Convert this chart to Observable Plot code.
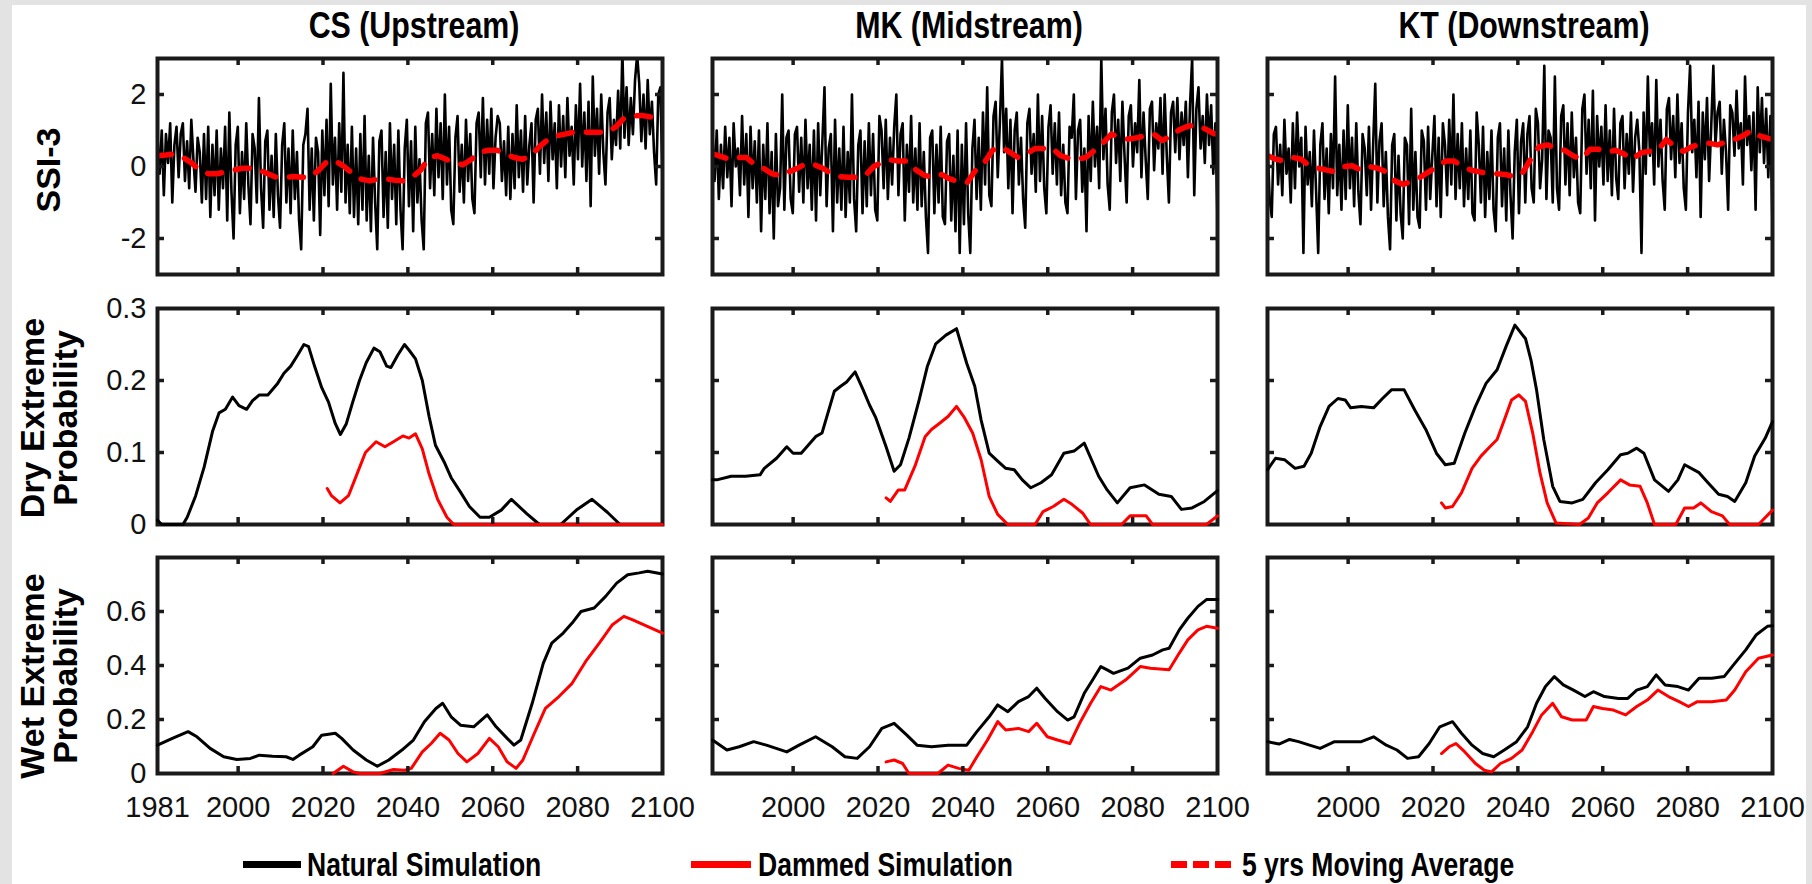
<!DOCTYPE html>
<html>
<head>
<meta charset="utf-8">
<script src="https://cdn.jsdelivr.net/npm/d3@7"></script>
<script src="https://cdn.jsdelivr.net/npm/@observablehq/plot@0.6"></script>
<style>
html,body{margin:0;padding:0;background:#fff;}
#root{position:relative;width:1812px;height:884px;overflow:hidden;background:#fff;font-family:"Liberation Sans",Arial,sans-serif;color:#000;}
.title{position:absolute;top:5px;height:42px;line-height:42px;font-weight:bold;font-size:37px;white-space:nowrap;transform:translateX(-50%) scaleX(0.82);}
.ylab{position:absolute;font-weight:bold;font-size:34px;line-height:33px;white-space:nowrap;text-align:center;transform:translate(-50%,-50%) rotate(-90deg);}
.legtext{position:absolute;top:844px;height:40px;line-height:40px;font-weight:bold;font-size:34px;white-space:nowrap;transform:scaleX(0.78);transform-origin:0 50%;}
.legbar{position:absolute;height:7px;top:861px;}
.strip{position:absolute;background:#e3e3e3;}
</style>
</head>
<body>
<div id="root"></div>
<script>
// ---------------- data ----------------
const stations = ["CS (Upstream)", "MK (Midstream)", "KT (Downstream)"];
const rowLabels = [["SSI-3"], ["Dry Extreme", "Probability"], ["Wet Extreme", "Probability"]];
const legendLabels = ["Natural Simulation", "Dammed Simulation", "5 yrs Moving Average"];

const xTickMarks = [2000, 2020, 2040, 2060, 2080];
const xLabelsFirst = [1981, 2000, 2020, 2040, 2060, 2080, 2100];
const xLabelsOther = [2000, 2020, 2040, 2060, 2080, 2100];
const ssiTicks = [-2, 0, 2];
const dryTicks = [0, 0.1, 0.2, 0.3];
const wetTicks = [0, 0.2, 0.4, 0.6];

// SSI-3, two readings per year, 1981-2100
const ssiCS = [
 0.8,-0.2, 1.0,-0.8, 0.9,0.1, 1.2,-1.0, 0.6,1.1, -0.3,0.9, 1.2,-0.4, 0.7,-0.6, 1.3,0.2, -0.7,0.8,
 0.4,-1.0, 0.9,-0.9, 1.1,-1.4, 0.6,-0.8, 1.0,-1.2, 0.5,-0.6, 1.1,-1.5, 1.5,-0.7, -2.0,0.6, 1.1,-1.3,
 0.4,-0.9, 1.2,-0.5, -1.6,0.9, 0.5,-1.0, 1.9,-0.6, -1.7,0.7, 1.0,-1.2, 0.3,-1.4, 0.9,-0.8, -1.7,0.6,
 1.2,-1.0, 0.5,-1.3, 1.0,-0.9, 0.4,-1.5, -2.3,0.6, 0.9,1.6, -1.2,0.5, -1.5,0.8, 0.4,-1.9, 1.0,-0.8,
 1.3,-1.1, 2.3,-0.5, 0.8,-1.2, 1.2,-0.7, 2.6,-1.0, 0.6,-1.3, 1.1,-1.4, 0.5,-1.6, 0.9,-1.2, 1.4,-1.5,
 0.3,-1.8, 0.8,-1.0, -2.3,0.7, 1.0,-1.4, 0.4,-1.7, 1.2,-0.9, 0.6,-1.6, 1.0,-1.2, -2.3,0.5, 1.3,-1.1,
 0.7,-1.8, 1.1,-1.0, 0.2,-1.5, -2.3,1.2, 1.5,-0.6, 0.9,-0.8, 1.6,-0.3, 1.2,-0.9, 2.0,-0.5, 1.1,-1.2,
 -1.6,0.8, 1.4,-0.7, 0.6,-1.0, 1.3,-0.4, 0.9,-0.9, -1.3,1.2, 1.5,-0.3, 1.9,-0.5, 1.3,-0.2, 1.6,-0.6,
 0.8,1.4, 1.2,-0.4, 0.7,-0.8, 1.1,-0.9, 0.9,-0.6, 1.7,-0.3, 1.0,-0.7, 1.4,-0.5, 0.6,1.2, -1.0,1.3,
 1.6,-0.2, 2.0,0.1, 1.5,-0.4, 1.8,0.2, 1.2,-0.6, 1.7,0.0, 1.4,-0.3, 1.9,0.3, 1.1,-0.5, 1.7,0.2,
 2.3,0.0, 1.5,-0.4, 1.8,-1.1, 2.5,0.3, 1.6,-0.2, 2.0,0.4, -0.5,1.5, 1.9,0.2, 1.3,0.6, 2.1,0.5,
 3.2,0.8, 2.2,0.6, 1.9,0.9, 2.4,3.1, 2.3,0.7, 2.0,0.5, 2.4,0.9, 1.8,0.4, -0.5,2.0, 2.2,-0.4
];
const ssiMK = [
 0.9,-0.4, 1.0,-0.9, 0.6,-0.6, 1.1,-0.3, 0.8,-1.1, 1.2,0.0, 0.5,-0.8, 1.4,-0.5, 0.9,-1.4, 1.1,-0.6,
 0.7,-1.0, 1.0,-1.8, 0.6,-0.9, 1.2,-1.3, 0.4,-2.0, 0.9,-1.1, -0.6,2.0, -1.2,0.8, 1.0,-0.9, -1.3,0.9,
 1.1,-0.7, 0.8,-1.0, 1.3,-0.6, 0.6,-1.2, 1.0,-1.5, 1.2,-0.8, 0.7,2.2, -1.1,0.5, 0.9,-1.8, 1.3,-1.0,
 0.5,-1.2, 1.1,-1.4, 0.4,-1.0, 2.0,-0.9, -1.8,0.6, 1.0,-1.3, 0.7,-1.1, 1.2,-0.8, 0.9,-1.2, -1.5,1.4,
 1.0,-0.6, 1.3,-0.9, 0.8,-0.5, 1.1,2.0, -0.8,0.9, 1.2,-1.5, 0.6,-0.7, 1.4,-1.0, 0.5,-1.2, 1.2,-1.1,
 0.4,-1.4, -2.4,0.8, 1.0,-1.3, 0.6,-1.0, 1.1,-1.4, -1.6,0.7, 0.9,-1.5, 0.3,-1.8, 1.0,-2.4, 0.6,-1.6,
 1.2,-1.3, -2.4,0.5, 1.3,-0.9, 0.8,-1.2, 1.5,-0.5, 2.2,-0.8, -1.1,1.4, 1.8,-0.3, 1.2,3.0, 0.4,1.6,
 -0.6,1.3, -1.3,1.0, 1.5,-0.5, 0.8,-0.9, -1.7,1.2, 1.6,-0.2, 0.9,-0.7, 2.0,-0.4, 1.4,-0.6, -1.3,1.1,
 1.7,-0.2, 1.2,-0.5, 1.5,-0.8, 0.6,-1.0, -1.3,1.1, 0.8,2.0, -0.9,1.0, 1.3,-0.7, 0.5,-1.8, 1.4,-0.4,
 1.8,0.0, 1.1,-0.6, 3.0,0.2, 1.6,-0.5, -1.2,1.5, 2.0,0.1, 1.3,-0.4, 1.8,0.3, -1.0,1.4, 1.7,0.0,
 1.2,0.4, 2.4,-0.3, 1.5,0.2, -0.9,1.6, 1.8,-0.1, 1.2,0.5, 1.9,-0.2, 2.0,0.3, -1.0,1.5, 1.8,0.4,
 1.9,0.2, 1.5,0.6, 1.8,-0.3, 1.7,3.0, -0.8,1.6, 2.2,0.5, 1.4,0.1, 2.0,0.6, 1.7,-0.2, 1.2,-1.5
];
const ssiKT = [
 0.7,-0.9, -1.4,0.9, 1.1,-0.5, 0.6,-0.8, 1.3,-0.2, 0.5,-1.0, 1.2,-0.6, 1.5,0.0, 0.8,-2.4, 1.1,-0.5,
 0.4,-1.1, 1.0,-0.7, -2.4,0.6, 1.2,-0.9, 0.5,-1.3, 0.9,-0.6, 2.5,-0.8, 0.6,-1.2, 1.0,-0.9, 1.7,-0.6,
 0.8,-1.1, 1.2,-0.7, -1.6,0.9, 0.5,-0.8, 1.1,-1.2, 0.6,2.3, -1.0,0.7, 1.2,-1.1, 0.4,-1.4, -2.3,0.6,
 0.9,-1.5, 0.3,-1.3, -2.0,0.8, 0.6,-1.6, 1.6,-1.2, 0.4,-1.4, -1.7,1.0, 0.7,-1.2, 1.1,-0.9, 0.3,1.4,
 -1.1,0.8, -1.4,1.2, 0.6,-0.8, 1.3,-0.5, 2.0,-0.9, 0.9,-0.6, 1.2,-1.1, 0.5,-0.9, 1.0,-1.3, -1.5,1.5,
 0.6,-1.0, 1.1,-1.4, 0.4,-0.9, 1.0,-1.2, -1.8,0.8, 1.2,-1.1, 0.5,-1.5, 1.0,-0.8, -2.0,0.4, 1.3,-1.3,
 0.7,1.2, -1.0,0.9, 1.4,-0.6, -1.0,1.6, 1.2,-0.6, 0.2,2.8, -0.9,1.0, 0.8,-1.0, 2.5,-0.6, -1.2,1.4,
 1.7,-0.5, 1.2,-0.8, 1.5,-0.3, 0.8,-1.0, -1.3,1.6, 2.0,-0.2, 1.3,-0.6, 2.1,-1.5, 1.4,0.0, 1.1,-0.5,
 1.7,-0.4, 1.0,-0.8, 1.6,-0.3, -0.9,1.2, 1.4,-0.6, 0.9,-0.2, 1.5,-0.7, 0.8,1.3, 0.4,-2.4, 1.5,-0.2,
 2.5,0.3, 1.2,-0.5, 2.4,0.0, 1.3,-0.4, -1.2,1.6, 1.9,0.2, 1.4,-0.3, 2.0,0.1, 1.2,-0.6, -1.2,1.5,
 2.8,0.4, 1.3,-0.3, 1.8,-1.4, 1.5,0.2, 1.9,-0.4, 1.1,2.8, 0.6,1.5, 1.8,-0.2, 1.3,0.4, -1.2,1.7,
 1.5,0.3, 2.1,0.5, 1.2,-0.5, 2.5,0.6, 1.4,-0.1, 1.5,-1.2, 2.2,0.4, 1.9,0.1, 1.6,-0.3, 1.4,-1.7
];

// 5-year moving average [year, value]
const maCS = [[1981,0.3],[1983,0.32],[1985,0.35],[1987,0.25],[1989,0.1],[1991,-0.1],[1993,-0.2],[1995,-0.2],[1997,-0.15],[1999,-0.1],[2001,-0.05],[2003,-0.05],[2005,-0.1],[2007,-0.2],[2009,-0.3],[2011,-0.3],[2013,-0.28],[2015,-0.3],[2017,-0.3],[2019,-0.1],[2021,0.15],[2023,0.15],[2025,0.0],[2027,-0.2],[2029,-0.35],[2031,-0.4],[2033,-0.35],[2035,-0.35],[2037,-0.38],[2039,-0.4],[2041,-0.3],[2043,-0.1],[2045,0.25],[2047,0.3],[2049,0.2],[2051,0.1],[2053,0.05],[2055,0.2],[2057,0.4],[2059,0.45],[2061,0.45],[2063,0.35],[2065,0.25],[2067,0.2],[2069,0.3],[2071,0.55],[2073,0.75],[2075,0.85],[2077,0.9],[2079,0.95],[2081,0.95],[2083,0.95],[2085,0.95],[2087,0.95],[2089,1.1],[2091,1.35],[2093,1.4],[2095,1.42],[2097,1.38],[2099,1.35],[2100,1.35]];
const maMK = [[1981,0.35],[1983,0.28],[1985,0.2],[1987,0.25],[1989,0.25],[1991,0.05],[1993,-0.05],[1995,-0.2],[1997,-0.25],[1999,-0.15],[2001,-0.05],[2003,0.08],[2005,0.05],[2007,-0.05],[2009,-0.2],[2011,-0.28],[2013,-0.3],[2015,-0.3],[2017,-0.25],[2019,0.0],[2021,0.12],[2023,0.18],[2025,0.15],[2027,0.15],[2029,-0.1],[2031,-0.25],[2033,-0.3],[2035,-0.22],[2037,-0.35],[2039,-0.42],[2041,-0.45],[2043,-0.1],[2045,0.1],[2047,0.45],[2049,0.55],[2051,0.4],[2053,0.25],[2055,0.35],[2057,0.5],[2059,0.5],[2061,0.52],[2063,0.3],[2065,0.22],[2067,0.2],[2069,0.25],[2071,0.45],[2073,0.65],[2075,0.9],[2077,0.8],[2079,0.76],[2081,0.8],[2083,0.85],[2085,0.9],[2087,0.72],[2089,0.85],[2091,1.02],[2093,1.12],[2095,1.15],[2097,1.05],[2099,0.92],[2100,0.9]];
const maKT = [[1981,0.3],[1983,0.2],[1985,0.15],[1987,0.25],[1989,0.2],[1991,0.0],[1993,-0.05],[1995,-0.1],[1997,-0.15],[1999,0.0],[2001,0.02],[2003,-0.1],[2005,0.0],[2007,-0.05],[2009,-0.15],[2011,-0.4],[2013,-0.5],[2015,-0.4],[2017,-0.3],[2019,-0.15],[2021,0.0],[2023,0.15],[2025,0.15],[2027,0.0],[2029,-0.1],[2031,-0.15],[2033,-0.2],[2035,-0.2],[2037,-0.22],[2039,-0.28],[2041,-0.2],[2043,0.2],[2045,0.55],[2047,0.6],[2049,0.5],[2051,0.45],[2053,0.3],[2055,0.2],[2057,0.48],[2059,0.48],[2061,0.4],[2063,0.45],[2065,0.35],[2067,0.2],[2069,0.38],[2071,0.42],[2073,0.45],[2075,0.75],[2077,0.55],[2079,0.42],[2081,0.55],[2083,0.62],[2085,0.65],[2087,0.6],[2089,0.68],[2091,0.75],[2093,0.85],[2095,1.0],[2097,0.85],[2099,0.78],[2100,0.75]];

// Dry extreme probability [year, value]
const dryNatCS = [[1981,0.006],[1982,0],[1987,0],[1988,0.01],[1990,0.04],[1992,0.08],[1994,0.13],[1995.5,0.155],[1997,0.16],[1998.7,0.177],[2000.2,0.165],[2002,0.16],[2003.4,0.172],[2005,0.18],[2007,0.18],[2009.2,0.195],[2010.8,0.21],[2012.4,0.22],[2014,0.235],[2015.5,0.25],[2016.6,0.247],[2018,0.22],[2019.7,0.19],[2021.3,0.17],[2022.9,0.14],[2024.1,0.125],[2025.5,0.14],[2027,0.17],[2028.6,0.2],[2030.2,0.225],[2032,0.245],[2033.4,0.24],[2035,0.22],[2036,0.218],[2037.6,0.235],[2039.2,0.25],[2040.3,0.242],[2041.8,0.23],[2043.4,0.2],[2045,0.15],[2046.5,0.11],[2048.7,0.085],[2050.2,0.065],[2052.4,0.045],[2054.5,0.025],[2057,0.01],[2059.2,0.01],[2062,0.02],[2064.4,0.035],[2068,0.015],[2071,0],[2076,0],[2079.7,0.02],[2083.4,0.035],[2087,0.017],[2090,0],[2100,0]];
const dryDamCS = [[2021,0.05],[2022,0.04],[2024,0.03],[2026,0.04],[2028,0.07],[2030,0.1],[2032.5,0.115],[2034.6,0.108],[2036.6,0.115],[2038.8,0.123],[2040.3,0.12],[2041.8,0.126],[2043.4,0.105],[2045,0.07],[2047,0.035],[2049.2,0.01],[2050.8,0],[2100,0]];
const dryNatMK = [[1981,0.062],[1982,0.062],[1985.4,0.067],[1988.8,0.067],[1992.2,0.069],[1993.2,0.078],[1996.1,0.092],[1998.5,0.108],[2000,0.099],[2001.9,0.099],[2005.3,0.122],[2006.8,0.127],[2009.7,0.185],[2011.2,0.192],[2012.6,0.198],[2014.6,0.212],[2016.5,0.187],[2018,0.166],[2019.5,0.148],[2021.9,0.108],[2023.8,0.074],[2025.3,0.083],[2027.3,0.12],[2029.7,0.173],[2031.6,0.219],[2033.6,0.251],[2036,0.263],[2038.5,0.272],[2040.9,0.224],[2042.8,0.192],[2044.3,0.145],[2046.2,0.099],[2048.2,0.088],[2050.1,0.078],[2052.1,0.076],[2054,0.062],[2056,0.051],[2058.4,0.058],[2060.9,0.069],[2063.8,0.099],[2066.2,0.102],[2068.6,0.113],[2072,0.067],[2074,0.048],[2076.4,0.03],[2079.4,0.051],[2082.8,0.055],[2086.2,0.042],[2089.1,0.039],[2091.5,0.021],[2094,0.023],[2096.9,0.032],[2100,0.047]];
const dryDamMK = [[2021.9,0.037],[2022.9,0.032],[2024.8,0.048],[2026.3,0.048],[2028.7,0.081],[2031.1,0.122],[2032.6,0.132],[2034.6,0.141],[2036.5,0.15],[2038.5,0.164],[2040.4,0.148],[2042.3,0.127],[2044.3,0.09],[2046.2,0.039],[2048.2,0.014],[2050.6,0],[2057,0],[2058.9,0.018],[2061.3,0.025],[2063.8,0.035],[2065.7,0.028],[2068.2,0.016],[2070.1,0],[2077.4,0],[2079.4,0.012],[2083.2,0.012],[2084.7,0],[2097.4,0],[2100,0.012]];
const dryNatKT = [[1981,0.076],[1982.9,0.092],[1985,0.09],[1987.5,0.078],[1989.6,0.081],[1991.3,0.099],[1993.4,0.136],[1995.5,0.164],[1997.6,0.175],[1999.3,0.173],[2000.6,0.162],[2003.1,0.164],[2006,0.162],[2008.1,0.175],[2010.2,0.187],[2013.2,0.187],[2015.7,0.159],[2018.3,0.132],[2020.8,0.099],[2022.9,0.083],[2025,0.085],[2027.5,0.127],[2030,0.164],[2032.5,0.196],[2035.1,0.215],[2037.2,0.247],[2039.3,0.277],[2041.8,0.258],[2043.1,0.228],[2044.4,0.187],[2046.1,0.118],[2048.2,0.053],[2049.9,0.032],[2052.8,0.03],[2055.3,0.035],[2058.3,0.058],[2061.2,0.076],[2064.2,0.097],[2065.9,0.099],[2068,0.106],[2069.7,0.099],[2072.2,0.062],[2075.5,0.046],[2077.7,0.062],[2079.3,0.083],[2082.7,0.072],[2084.8,0.058],[2087.3,0.042],[2089.4,0.039],[2091.1,0.032],[2093.7,0.058],[2095.8,0.095],[2098.3,0.12],[2100,0.143]];
const dryDamKT = [[2022,0.03],[2022.9,0.023],[2024.6,0.025],[2026.7,0.044],[2029.2,0.078],[2031.3,0.095],[2033.4,0.108],[2035.1,0.118],[2036.8,0.145],[2038.5,0.173],[2040.2,0.18],[2041.8,0.171],[2043.5,0.127],[2045.2,0.072],[2046.9,0.03],[2049,0.002],[2054.5,0],[2056.6,0.009],[2058.7,0.03],[2061.2,0.044],[2064.2,0.062],[2066.3,0.055],[2068.8,0.053],[2070.5,0.03],[2072.2,0],[2077.2,0],[2079.3,0.023],[2081.4,0.023],[2083.1,0.03],[2085.6,0.018],[2088.2,0.012],[2089.9,0],[2096.7,0],[2100,0.02]];

// Wet extreme probability [year, value]
const wetNatCS = [[1981,0.105],[1984.5,0.13],[1988.2,0.155],[1990.3,0.136],[1993.4,0.093],[1996.6,0.062],[1999.7,0.052],[2002.9,0.056],[2005,0.068],[2008.1,0.064],[2011.3,0.062],[2012.9,0.052],[2014.4,0.068],[2017.6,0.099],[2019.7,0.142],[2022.9,0.149],[2024.4,0.13],[2027.1,0.087],[2030.2,0.05],[2032.8,0.027],[2035.5,0.05],[2038.6,0.087],[2041.3,0.124],[2043.9,0.192],[2046.6,0.241],[2048.2,0.26],[2050.2,0.21],[2052.4,0.179],[2055.5,0.173],[2058.7,0.217],[2060.8,0.173],[2063.4,0.13],[2065,0.105],[2066.6,0.124],[2069.3,0.26],[2071.9,0.408],[2073.9,0.483],[2076.6,0.52],[2078.7,0.557],[2080.8,0.6],[2083.9,0.613],[2086.6,0.656],[2089.2,0.705],[2091.8,0.736],[2094.5,0.743],[2096.5,0.749],[2100,0.739]];
const wetDamCS = [[2022.4,0],[2024.8,0.027],[2027.1,0.006],[2028.7,0],[2033.4,0],[2036.6,0.015],[2039.2,0.012],[2040.8,0.019],[2043.4,0.08],[2045.5,0.111],[2047.6,0.149],[2049.7,0.124],[2051.8,0.074],[2053.9,0.043],[2056.5,0.074],[2059.2,0.13],[2061.3,0.099],[2063.4,0.043],[2065.5,0.019],[2067.1,0.05],[2069.8,0.149],[2072.4,0.241],[2075.6,0.285],[2078.7,0.334],[2081.9,0.415],[2085.1,0.483],[2088.2,0.551],[2090.9,0.582],[2093,0.569],[2095.5,0.551],[2100,0.52]];
const wetNatMK = [[1981,0.124],[1984.4,0.087],[1987.3,0.099],[1990.7,0.118],[1993.7,0.105],[1998.5,0.08],[2001.4,0.105],[2005.3,0.136],[2009.2,0.099],[2012.2,0.062],[2015.1,0.056],[2018,0.099],[2020.9,0.167],[2023.8,0.186],[2026.8,0.142],[2029.2,0.105],[2032.6,0.099],[2036.5,0.105],[2040.9,0.105],[2043.3,0.155],[2046.2,0.21],[2048.2,0.254],[2050.6,0.229],[2053.1,0.266],[2055.5,0.285],[2057.4,0.316],[2059.4,0.278],[2062.3,0.229],[2064.7,0.198],[2066.2,0.21],[2068.6,0.297],[2070.6,0.347],[2072.5,0.396],[2074,0.384],[2075.5,0.371],[2078.9,0.39],[2081.8,0.427],[2084.7,0.439],[2087.1,0.458],[2088.6,0.464],[2091,0.532],[2093,0.575],[2095.4,0.619],[2097.4,0.644],[2100,0.644]];
const wetDamMK = [[2021.9,0.043],[2023.8,0.05],[2025.8,0.037],[2027.3,0],[2034.1,0],[2036.5,0.031],[2039,0.019],[2041.4,0.012],[2043.3,0.062],[2045.8,0.124],[2048.2,0.192],[2050.1,0.161],[2053.1,0.167],[2055.5,0.155],[2057.4,0.186],[2059.9,0.136],[2062.3,0.124],[2065.2,0.111],[2067.7,0.192],[2070.1,0.26],[2072.5,0.322],[2074.9,0.309],[2078.4,0.347],[2081.8,0.396],[2084.2,0.39],[2088.6,0.384],[2091,0.446],[2093,0.495],[2095.4,0.532],[2097.4,0.545],[2100,0.538]];
const wetNatKT = [[1981,0.118],[1983.7,0.109],[1986.2,0.126],[1988.3,0.118],[1990.9,0.105],[1993.4,0.093],[1996.8,0.118],[1999.7,0.118],[2003.1,0.118],[2006,0.136],[2009,0.105],[2011.5,0.087],[2014,0.056],[2016.6,0.062],[2019.1,0.111],[2021.6,0.173],[2024.6,0.192],[2026.7,0.149],[2029.2,0.105],[2031.7,0.074],[2034.3,0.062],[2036.8,0.087],[2039.7,0.118],[2042.3,0.173],[2044.4,0.26],[2046.5,0.322],[2048.6,0.359],[2050.7,0.328],[2053.1,0.309],[2055.8,0.285],[2057.8,0.303],[2060.4,0.285],[2063.7,0.278],[2065.9,0.278],[2068,0.309],[2070.5,0.322],[2072.6,0.365],[2074.7,0.328],[2077.7,0.322],[2080.2,0.309],[2082.7,0.353],[2085.7,0.353],[2088.6,0.359],[2091.1,0.408],[2093.7,0.458],[2096.2,0.514],[2098.8,0.545],[2100,0.547]];
const wetDamKT = [[2022,0.074],[2023.8,0.099],[2025.4,0.111],[2027.5,0.08],[2030,0.037],[2032.1,0.012],[2033.8,0.006],[2035.9,0.037],[2038.5,0.056],[2041,0.087],[2043.5,0.155],[2045.6,0.217],[2048.2,0.26],[2050.3,0.21],[2052.8,0.198],[2056.1,0.198],[2057.8,0.248],[2059.9,0.241],[2062.5,0.235],[2065.4,0.217],[2068,0.248],[2070.5,0.272],[2073,0.309],[2075.5,0.285],[2078,0.266],[2080.2,0.248],[2082.3,0.266],[2085.7,0.266],[2089.1,0.272],[2091.1,0.309],[2093.7,0.377],[2096.7,0.427],[2100,0.439]];

// ---------------- layout ----------------
const root = document.getElementById("root");
const FL = [157, 712, 1267], FT = [58, 308, 557], FW = 505, FH = 216;
const TICK = 7, INK = "#1a1a1a";
const startYear = 1981, endYear = 2100;

const toXY = arr => arr.map(d => ({x: d[0], y: d[1]}));
const toSeries = vals => vals.map((v, i) => ({x: startYear + i * (endYear - startYear) / (vals.length - 1), y: v}));

function tickMarks(yTickMarks) {
  return [
    Plot.ruleX(xTickMarks, {x: d => d, insetBottom: FH - TICK, stroke: INK, strokeWidth: 3.5}),
    Plot.ruleX(xTickMarks, {x: d => d, insetTop: FH - TICK, stroke: INK, strokeWidth: 3.5}),
    Plot.ruleY(yTickMarks, {y: d => d, insetRight: FW - TICK, stroke: INK, strokeWidth: 3.5}),
    Plot.ruleY(yTickMarks, {y: d => d, insetLeft: FW - TICK, stroke: INK, strokeWidth: 3.5})
  ];
}

function panel(ci, ri, yDomain, yLabelTicks, yTickMarks, dataMarks, frameOnTop) {
  const ML = ci === 0 ? 90 : 20, MR = 14, MT = 12, MB = ri === 2 ? 64 : 20;
  const marks = [];
  if (!frameOnTop) marks.push(Plot.frame({stroke: INK, strokeWidth: 4}));
  marks.push(...dataMarks);
  if (frameOnTop) marks.push(Plot.frame({stroke: INK, strokeWidth: 4}));
  marks.push(...tickMarks(yTickMarks));
  if (ci === 0) marks.push(Plot.axisY({ticks: yLabelTicks, tickSize: 0, tickPadding: 11, tickFormat: d => String(d), label: null}));
  if (ri === 2) marks.push(Plot.axisX({ticks: ci === 0 ? xLabelsFirst : xLabelsOther, tickSize: 0, tickPadding: 23, tickFormat: d => String(d), label: null}));
  const svg = Plot.plot({
    width: FW + ML + MR, height: FH + MT + MB,
    marginLeft: ML, marginRight: MR, marginTop: MT, marginBottom: MB,
    x: {domain: [startYear, endYear], axis: null},
    y: {domain: yDomain, axis: null},
    style: {fontFamily: "'Liberation Sans', Arial, sans-serif", fontSize: "29px", color: "#111", background: "none", overflow: "visible", maxWidth: "none"},
    marks
  });
  svg.style.position = "absolute";
  svg.style.left = (FL[ci] - ML) + "px";
  svg.style.top = (FT[ri] - MT) + "px";
  root.appendChild(svg);
}

const ssiSets = [[ssiCS, maCS], [ssiMK, maMK], [ssiKT, maKT]];
const drySets = [[dryNatCS, dryDamCS], [dryNatMK, dryDamMK], [dryNatKT, dryDamKT]];
const wetSets = [[wetNatCS, wetDamCS], [wetNatMK, wetDamMK], [wetNatKT, wetDamKT]];

for (let ci = 0; ci < 3; ci++) {
  const [s, ma] = ssiSets[ci];
  panel(ci, 0, [-3, 3], ssiTicks, ssiTicks, [
    Plot.line(toSeries(s), {x: "x", y: "y", stroke: "#000", strokeWidth: 2.6, clip: true}),
    Plot.line(toXY(ma), {x: "x", y: "y", stroke: "#ff0000", strokeWidth: 5.5, strokeDasharray: "14,14", clip: true})
  ], true);
  const [dn, dd] = drySets[ci];
  panel(ci, 1, [0, 0.3], dryTicks, [0.1, 0.2], [
    Plot.line(toXY(dn), {x: "x", y: "y", stroke: "#000", strokeWidth: 3, strokeLinejoin: "round"}),
    Plot.line(toXY(dd), {x: "x", y: "y", stroke: "#ff0000", strokeWidth: 3, strokeLinejoin: "round"})
  ], false);
  const [wn, wd] = wetSets[ci];
  panel(ci, 2, [0, 0.8], wetTicks, [0.2, 0.4, 0.6], [
    Plot.line(toXY(wn), {x: "x", y: "y", stroke: "#000", strokeWidth: 3, strokeLinejoin: "round"}),
    Plot.line(toXY(wd), {x: "x", y: "y", stroke: "#ff0000", strokeWidth: 3, strokeLinejoin: "round"})
  ], false);
}

// titles
stations.forEach((t, ci) => {
  const d = document.createElement("div");
  d.className = "title"; d.textContent = t;
  d.style.left = (FL[ci] + FW / 2 + 4) + "px";
  root.appendChild(d);
});

// row labels
const rowCenters = [FT[0] + FH / 2 + 4, FT[1] + FH / 2 + 2, FT[2] + FH / 2 + 11];
rowLabels.forEach((lines, ri) => {
  const d = document.createElement("div");
  d.className = "ylab";
  d.innerHTML = lines.join("<br>");
  d.style.left = (lines.length === 1 ? 48 : 49) + "px";
  d.style.top = rowCenters[ri] + "px";
  root.appendChild(d);
});

// legend
function bar(x, w, color) {
  const b = document.createElement("div");
  b.className = "legbar"; b.style.left = x + "px"; b.style.width = w + "px"; b.style.background = color;
  root.appendChild(b);
}
function legText(x, t) {
  const d = document.createElement("div");
  d.className = "legtext"; d.style.left = x + "px"; d.textContent = t;
  root.appendChild(d);
}
bar(243, 58, "#000"); legText(307, legendLabels[0]);
bar(691, 60, "#ff0000"); legText(758, legendLabels[1]);
bar(1171, 16, "#ff0000"); bar(1193, 16, "#ff0000"); bar(1215, 16, "#ff0000"); legText(1242, legendLabels[2]);

// light grey borders of the scanned figure
[[0, 0, 12, 884], [1806, 0, 6, 884], [0, 0, 1812, 5]].forEach(([x, y, w, h]) => {
  const s = document.createElement("div");
  s.className = "strip";
  Object.assign(s.style, {left: x + "px", top: y + "px", width: w + "px", height: h + "px"});
  root.appendChild(s);
});
</script>
</body>
</html>
